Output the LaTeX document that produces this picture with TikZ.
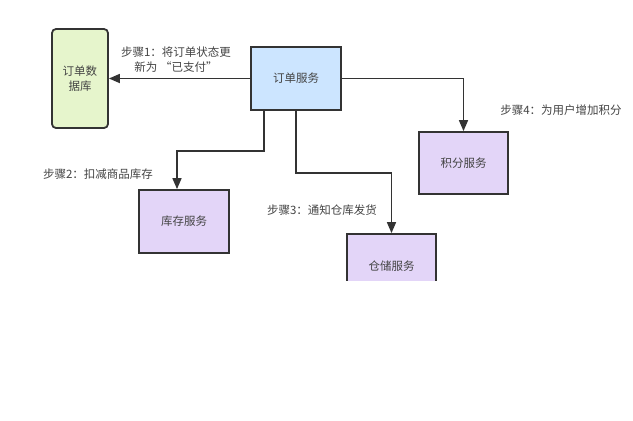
\documentclass[tikz,border=0pt]{standalone}
\usepackage{fontspec}
\setmainfont{Noto Sans CJK SC}
\usetikzlibrary{arrows.meta}
\definecolor{boxline}{HTML}{333333}
\definecolor{dbgreen}{HTML}{E6F5CC}
\definecolor{svcblue}{HTML}{CCE5FF}
\definecolor{svcpurple}{HTML}{E3D5F8}
\definecolor{txtgray}{HTML}{444444}
\tikzset{
  box/.style={rectangle, draw=boxline, line width=1.8pt, text=txtgray,
    font=\fontsize{11.5}{15}\selectfont, align=center},
  step label/.style={text=txtgray, font=\fontsize{11.5}{15}\selectfont, align=center},
  link/.style={draw=boxline, line width=1.7pt, -{Triangle[length=11pt,width=9pt]}}
}
\begin{document}
\begin{tikzpicture}[x=1pt, y=-1pt]
\fill[white] (0,0) rectangle (633,421);
\useasboundingbox (0,0) rectangle (633,421);
% --- Database and services ---
\node[box, fill=dbgreen, rounded corners=4pt, minimum width=56pt, minimum height=99pt] (db) at (80,78.5) {订单数\\据库};
\node[box, fill=svcblue, minimum width=90pt, minimum height=63pt] (order) at (296,78.5) {订单服务};
\node[box, fill=svcpurple, minimum width=89pt, minimum height=62pt] (points) at (463.5,163) {积分服务};
\node[box, fill=svcpurple, minimum width=90pt, minimum height=63pt] (stock) at (184,221.5) {库存服务};
\begin{scope}
\clip (0,0) rectangle (633,280); % picture is cut off here
\node[box, fill=svcpurple, minimum width=89pt, minimum height=64pt] (store) at (391.5,266) {仓储服务};
\end{scope}
%
% --- Step labels ---
\node[step label] (s1) at (176,59.5) {步骤1：将订单状态更\\新为 “已支付”};
\node[step label] (s2) at (98,174) {步骤2：扣减商品库存};
\node[step label] (s3) at (322,210) {步骤3：通知仓库发货};
\node[step label] (s4) at (561,110) {步骤4：为用户增加积分};
%
% --- Edges ---
\draw[link] (order.west) -- (db.east); % step 1
\draw[link] ([xshift=-32pt]order.south) -- ++(0,40) -| ([xshift=-7pt]stock.north); % step 2
\draw[link] (order.south) -- ++(0,62) -| (store.north); % step 3
\draw[link] (order.east) -| (points.north); % step 4
%
\end{tikzpicture}
\end{document}
